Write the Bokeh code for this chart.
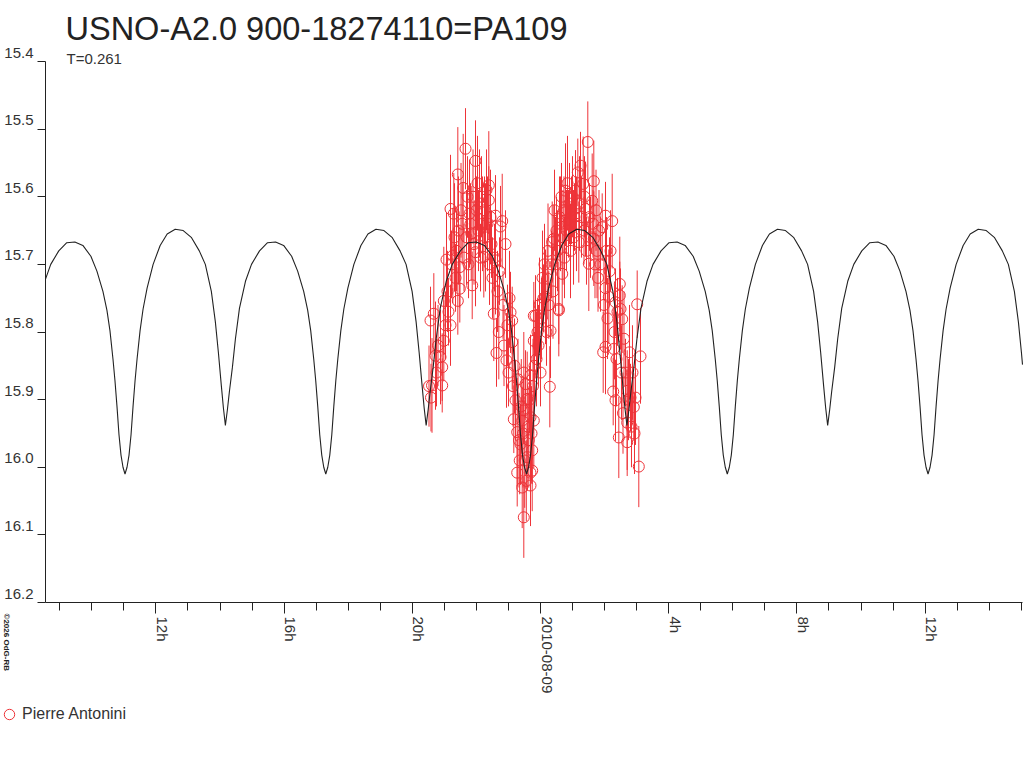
import math
import numpy as np
from bokeh.plotting import figure
from bokeh.models import (Range1d, FixedTicker, Label, Legend, LegendItem,
                          ColumnDataSource, LinearAxis)
from bokeh.embed import file_html
from bokeh.resources import INLINE

# ---------------- texts ----------------
TITLE = "USNO-A2.0 900-18274110=PA109"
SUBTITLE = "T=0.261"
OBSERVER = "Pierre Antonini"
COPYRIGHT = "\u00a92026 OdG-RB"

# ---------------- model light curve (one cycle) ----------------
PERIOD_DAYS = 0.261
EPOCH_MIN_H = -12.964   # hours from 2010-08-09 00:00 UT, primary minimum
model_phase = [0.000, 0.010, 0.020, 0.030, 0.040, 0.050, 0.060, 0.075, 0.090, 0.110,
               0.140, 0.175, 0.210, 0.250, 0.290, 0.330, 0.370, 0.400, 0.430, 0.450,
               0.465, 0.480, 0.490, 0.500, 0.510, 0.520, 0.535, 0.550, 0.570, 0.600,
               0.630, 0.670, 0.710, 0.750, 0.790, 0.830, 0.860, 0.890, 0.910, 0.925,
               0.940, 0.950, 0.960, 0.970, 0.980, 0.990, 1.000]
model_mag = [16.010, 16.000, 15.982, 15.952, 15.910, 15.872, 15.840, 15.798, 15.766, 15.735,
             15.700, 15.672, 15.655, 15.648, 15.650, 15.660, 15.680, 15.700, 15.740, 15.785,
             15.830, 15.880, 15.912, 15.938, 15.915, 15.888, 15.852, 15.810, 15.765, 15.725,
             15.700, 15.680, 15.668, 15.667, 15.672, 15.688, 15.710, 15.740, 15.768, 15.798,
             15.840, 15.872, 15.910, 15.952, 15.982, 16.000, 16.010]

# ---------------- observations (hours from 2010-08-09 00:00 UT) ----------------
obs_hours = [
    -3.479, -3.432, -3.417, -3.385, -3.329, -3.276, -3.245, -3.198, -3.120, -3.067,
    -3.067, -3.017, -3.017, -2.964, -2.933, -2.902, -2.871, -2.808, -2.808, -2.777,
    -2.736, -2.705, -2.683, -2.652, -2.621, -2.580, -2.580, -2.558, -2.518, -2.518,
    -2.480, -2.443, -2.412, -2.387, -2.340, -2.309, -2.278, -2.246, -2.215, -2.184,
    -2.162, -2.131, -2.106, -2.075, -2.028, -2.028, -1.997, -1.966, -1.934, -1.903,
    -1.872, -1.841, -1.810, -1.769, -1.747, -1.716, -1.685, -1.654, -1.613, -1.613,
    -1.591, -1.560, -1.529, -1.498, -1.457, -1.435, -1.404, -1.404, -1.373, -1.342,
    -1.301, -1.279, -1.248, -1.195, -1.170, -1.139, -1.092, -1.061, -1.030, -0.998,
    -0.967, -0.936, -0.883, -0.883, -0.858, -0.833, -0.811, -0.780, -0.727, -0.727,
    -0.702, -0.671, -0.649, -0.624, -0.599, -0.571, -0.571, -0.546, -0.521, -0.521,
    -0.521, -0.493, -0.468, -0.443, -0.415, -0.415, -0.390, -0.365, -0.343, -0.312,
    -0.312, -0.312, -0.312, -0.281, -0.259, -0.259, -0.234, -0.209, -0.209, -0.209,
    -0.187, -0.156, -0.125, -0.094, -0.062, -0.031, 0.000, 0.031, 0.062, 0.094,
    0.125, 0.156, 0.187, 0.209, 0.234, 0.259, 0.290, 0.312, 0.343, 0.365,
    0.390, 0.415, 0.437, 0.468, 0.499, 0.530, 0.571, 0.571, 0.593, 0.624,
    0.655, 0.677, 0.702, 0.733, 0.749, 0.780, 0.780, 0.811, 0.842, 0.874,
    0.905, 0.936, 0.967, 0.998, 1.030, 1.061, 1.092, 1.123, 1.164, 1.195,
    1.217, 1.248, 1.279, 1.332, 1.357, 1.373, 1.404, 1.435, 1.476, 1.507,
    1.529, 1.560, 1.613, 1.638, 1.663, 1.663, 1.700, 1.732, 1.763, 1.794,
    1.825, 1.872, 1.925, 1.956, 1.981, 2.028, 2.028, 2.028, 2.059, 2.090,
    2.131, 2.153, 2.184, 2.237, 2.268, 2.287, 2.309, 2.340, 2.340, 2.371,
    2.402, 2.443, 2.474, 2.474, 2.496, 2.527, 2.549, 2.574, 2.605, 2.652,
    2.705, 2.705, 2.705, 2.746, 2.777, 2.808, 2.839, 2.870, 2.911, 2.933,
    2.964, 3.017, 3.067, 3.120]
obs_mag = [
    15.880, 15.783, 15.897, 15.879, 15.773, 15.835, 15.860, 15.820, 15.837, 15.852,
    15.879, 15.813, 15.754, 15.790, 15.693, 15.740, 15.770, 15.790, 15.618, 15.700,
    15.687, 15.625, 15.660, 15.720, 15.680, 15.567, 15.754, 15.650, 15.704, 15.736,
    15.620, 15.640, 15.587, 15.690, 15.529, 15.660, 15.600, 15.700, 15.625, 15.640,
    15.654, 15.731, 15.600, 15.670, 15.547, 15.682, 15.620, 15.580, 15.650, 15.610,
    15.690, 15.600, 15.640, 15.689, 15.620, 15.660, 15.590, 15.640, 15.583, 15.605,
    15.700, 15.630, 15.670, 15.720, 15.773, 15.690, 15.628, 15.694, 15.831, 15.740,
    15.800, 15.710, 15.644, 15.636, 15.760, 15.820, 15.670, 15.842, 15.790, 15.860,
    15.750, 15.771, 15.783, 15.815, 15.880, 15.929, 15.850, 15.901, 15.948, 16.008,
    15.870, 15.960, 15.990, 15.966, 15.910, 15.931, 16.030, 15.950, 15.860, 15.916,
    16.074, 15.990, 15.877, 16.020, 15.899, 15.985, 15.940, 15.960, 15.900, 15.864,
    15.926, 16.008, 16.027, 15.950, 15.975, 16.005, 15.880, 15.776, 15.813, 15.931,
    15.850, 15.776, 15.840, 15.800, 15.820, 15.760, 15.860, 15.780, 15.720, 15.750,
    15.700, 15.748, 15.800, 15.721, 15.680, 15.760, 15.881, 15.798, 15.700, 15.667,
    15.740, 15.662, 15.620, 15.700, 15.650, 15.680, 15.766, 15.768, 15.630, 15.640,
    15.600, 15.714, 15.660, 15.620, 15.690, 15.591, 15.623, 15.650, 15.580, 15.640,
    15.610, 15.680, 15.620, 15.600, 15.660, 15.630, 15.591, 15.640, 15.564, 15.667,
    15.610, 15.554, 15.630, 15.581, 15.650, 15.600, 15.618, 15.680, 15.519, 15.699,
    15.630, 15.660, 15.606, 15.640, 15.577, 15.662, 15.700, 15.620, 15.680, 15.720,
    15.650, 15.700, 15.645, 15.830, 15.760, 15.628, 15.735, 15.822, 15.680, 15.780,
    15.748, 15.710, 15.680, 15.636, 15.888, 15.825, 15.800, 15.756, 15.901, 15.840,
    15.770, 15.956, 15.729, 15.746, 15.766, 15.860, 15.781, 15.920, 15.810, 15.860,
    15.887, 15.934, 15.963, 15.900, 15.830, 15.897, 15.940, 15.860, 15.911, 15.950,
    15.897, 15.759, 15.999, 15.836]
obs_err = [
    0.06, 0.05, 0.05, 0.07, 0.06, 0.08, 0.05, 0.06, 0.07, 0.05,
    0.04, 0.06, 0.08, 0.05, 0.07, 0.06, 0.05, 0.06, 0.08, 0.05,
    0.07, 0.06, 0.08, 0.05, 0.06, 0.07, 0.05, 0.08, 0.06, 0.05,
    0.07, 0.06, 0.08, 0.05, 0.06, 0.07, 0.06, 0.05, 0.08, 0.06,
    0.07, 0.05, 0.07, 0.06, 0.06, 0.08, 0.05, 0.07, 0.06, 0.08,
    0.05, 0.06, 0.07, 0.06, 0.05, 0.08, 0.06, 0.07, 0.08, 0.05,
    0.06, 0.07, 0.05, 0.06, 0.07, 0.05, 0.06, 0.08, 0.05, 0.06,
    0.07, 0.05, 0.06, 0.07, 0.05, 0.06, 0.05, 0.07, 0.06, 0.05,
    0.07, 0.06, 0.05, 0.07, 0.06, 0.05, 0.07, 0.06, 0.08, 0.05,
    0.06, 0.07, 0.05, 0.06, 0.07, 0.05, 0.06, 0.08, 0.06, 0.05,
    0.06, 0.07, 0.05, 0.06, 0.07, 0.05, 0.06, 0.07, 0.05, 0.06,
    0.07, 0.05, 0.06, 0.07, 0.05, 0.06, 0.07, 0.05, 0.06, 0.07,
    0.05, 0.06, 0.07, 0.05, 0.06, 0.07, 0.05, 0.06, 0.07, 0.05,
    0.06, 0.07, 0.05, 0.06, 0.07, 0.05, 0.06, 0.07, 0.05, 0.06,
    0.07, 0.05, 0.06, 0.07, 0.05, 0.06, 0.07, 0.05, 0.06, 0.07,
    0.05, 0.06, 0.07, 0.05, 0.06, 0.07, 0.05, 0.06, 0.07, 0.05,
    0.06, 0.07, 0.05, 0.06, 0.07, 0.05, 0.06, 0.07, 0.05, 0.06,
    0.07, 0.05, 0.06, 0.07, 0.05, 0.06, 0.07, 0.05, 0.06, 0.07,
    0.05, 0.06, 0.07, 0.05, 0.06, 0.07, 0.05, 0.06, 0.07, 0.05,
    0.06, 0.07, 0.05, 0.06, 0.07, 0.05, 0.06, 0.07, 0.05, 0.06,
    0.07, 0.05, 0.06, 0.07, 0.05, 0.06, 0.07, 0.05, 0.06, 0.07,
    0.05, 0.06, 0.07, 0.05, 0.06, 0.07, 0.05, 0.06, 0.07, 0.05,
    0.06, 0.07, 0.05, 0.06, 0.07, 0.05, 0.06, 0.07, 0.05, 0.06,
    0.07, 0.05, 0.06, 0.07]

# ---------------- axes ----------------
x_tick_hours = [-12, -8, -4, 0, 4, 8, 12]
x_tick_labels = ["12h", "16h", "20h", "2010-08-09", "4h", "8h", "12h"]
x_minor_hours = [-15, -14, -13, -11, -10, -9, -7, -6, -5, -3, -2, -1,
                 1, 2, 3, 5, 6, 7, 9, 10, 11, 13, 14, 15]
y_ticks = [15.4, 15.5, 15.6, 15.7, 15.8, 15.9, 16.0, 16.1, 16.2]
y_tick_labels = ["15.4", "15.5", "15.6", "15.7", "15.8", "15.9", "16.0", "16.1", "16.2"]
X_AXIS_START, X_AXIS_END = -15.445, 15.039   # extent of the time axis
Y_TOP, Y_BOTTOM = 15.4, 16.2                 # extent of the magnitude axis

# ---------------- layout (pixels) ----------------
W, H = 1024, 768
AX_LEFT, AX_RIGHT, AX_TOP, AX_BOTTOM = 45, 1022, 61, 602
px_per_h = (AX_RIGHT - AX_LEFT) / (X_AXIS_END - X_AXIS_START)
px_per_mag = (AX_BOTTOM - AX_TOP) / (Y_BOTTOM - Y_TOP)
x_lo = X_AXIS_START - AX_LEFT / px_per_h
x_hi = X_AXIS_END + (W - AX_RIGHT) / px_per_h
y_hi_top = Y_TOP - AX_TOP / px_per_mag
y_lo_bottom = Y_BOTTOM + (H - AX_BOTTOM) / px_per_mag

RED = "#ee3338"
INK = "#222222"
GREY = "#333333"
FONT = "Liberation Sans"

n = min(len(obs_hours), len(obs_mag), len(obs_err))
t_arr = np.array(obs_hours[:n])
m_arr = np.array(obs_mag[:n])
e_arr = np.array(obs_err[:n])
src = ColumnDataSource(dict(t=t_arr, m=m_arr, lo=m_arr - e_arr, hi=m_arr + e_arr))

# model: the read cycle repeated with the stated period, cut at the axis ends
period_h = PERIOD_DAYS * 24.0
mt, mm = [], []
for cyc in range(-1, 6):
    for ph, mg in zip(model_phase, model_mag):
        mt.append(EPOCH_MIN_H + (cyc + ph) * period_h)
        mm.append(mg)
mt = np.array(mt)
mm = np.array(mm)
keep = (mt > X_AXIS_START) & (mt < X_AXIS_END)
edge_mag = np.interp([X_AXIS_START, X_AXIS_END], mt, mm)
line_t = np.concatenate([[X_AXIS_START], mt[keep], [X_AXIS_END]])
line_m = np.concatenate([[edge_mag[0]], mm[keep], [edge_mag[1]]])

p = figure(width=W, height=H, output_backend="svg", toolbar_location=None,
           title=None, x_range=Range1d(x_lo, x_hi), y_range=Range1d(y_lo_bottom, y_hi_top),
           x_axis_location=None, y_axis_location=None,
           min_border_left=0, min_border_right=0, min_border_top=0, min_border_bottom=0)
p.outline_line_color = None
p.grid.visible = False
p.background_fill_color = "white"
p.border_fill_color = "white"

xa = LinearAxis(ticker=FixedTicker(ticks=x_tick_hours, minor_ticks=x_minor_hours),
                fixed_location=Y_BOTTOM, bounds=(X_AXIS_START, X_AXIS_END),
                major_tick_out=11, major_tick_in=0, minor_tick_out=8, minor_tick_in=0,
                axis_line_color=INK, major_tick_line_color=INK, minor_tick_line_color=INK,
                major_label_overrides={t: "" for t in x_tick_hours})
p.add_layout(xa, "below")
ya = LinearAxis(ticker=FixedTicker(ticks=y_ticks, minor_ticks=[]),
                fixed_location=X_AXIS_START, bounds=(Y_TOP, Y_BOTTOM),
                major_tick_out=8, major_tick_in=0, minor_tick_out=0, minor_tick_in=0,
                axis_line_color=INK, major_tick_line_color=INK,
                major_label_overrides={t: "" for t in y_ticks})
p.add_layout(ya, "left")

p.segment(x0="t", y0="lo", x1="t", y1="hi", source=src, line_color=RED, line_width=1)
r_pts = p.scatter("t", "m", source=src, marker="circle", size=11, fill_color=None,
                  line_color=RED, line_width=1)
p.line(line_t, line_m, line_color=INK, line_width=1.1)

# y tick labels (placed just above each tick, as in the original)
for v, lab in zip(y_ticks, y_tick_labels):
    p.add_layout(Label(x=X_AXIS_START, y=v, x_offset=-12, y_offset=9, text=lab,
                       text_align="right", text_baseline="middle",
                       text_font=FONT, text_font_size="15px", text_color=GREY))
# x tick labels, rotated to read downwards, starting right of each tick
for v, lab in zip(x_tick_hours, x_tick_labels):
    p.add_layout(Label(x=v, y=Y_BOTTOM, x_offset=6.5, y_offset=-14, text=lab,
                       angle=-math.pi / 2, text_align="left", text_baseline="middle",
                       text_font=FONT, text_font_size="15px", text_color=GREY))

p.add_layout(Label(x=X_AXIS_START, y=Y_TOP, x_offset=20, y_offset=33, text=TITLE,
                   text_align="left", text_baseline="middle",
                   text_font=FONT, text_font_size="32.5px", text_color=INK))
p.add_layout(Label(x=X_AXIS_START, y=Y_TOP, x_offset=21, y_offset=3, text=SUBTITLE,
                   text_align="left", text_baseline="middle",
                   text_font=FONT, text_font_size="15px", text_color=GREY))
p.add_layout(Label(x=X_AXIS_START, y=Y_BOTTOM, x_offset=-39, y_offset=-11, text=COPYRIGHT,
                   angle=-math.pi / 2, text_align="left", text_baseline="middle",
                   text_font=FONT, text_font_size="8px", text_font_style="bold",
                   text_color=INK))

legend = Legend(items=[LegendItem(label=OBSERVER, renderers=[r_pts])],
                location=(-4, 41), orientation="vertical",
                padding=0, margin=0, spacing=0, glyph_width=26, glyph_height=26,
                label_standoff=0, label_height=16,
                label_text_font=FONT, label_text_font_size="16px", label_text_color=GREY,
                border_line_color=None, background_fill_color=None, background_fill_alpha=0)
p.add_layout(legend)

open("out.html", "w").write(file_html(p, INLINE))
